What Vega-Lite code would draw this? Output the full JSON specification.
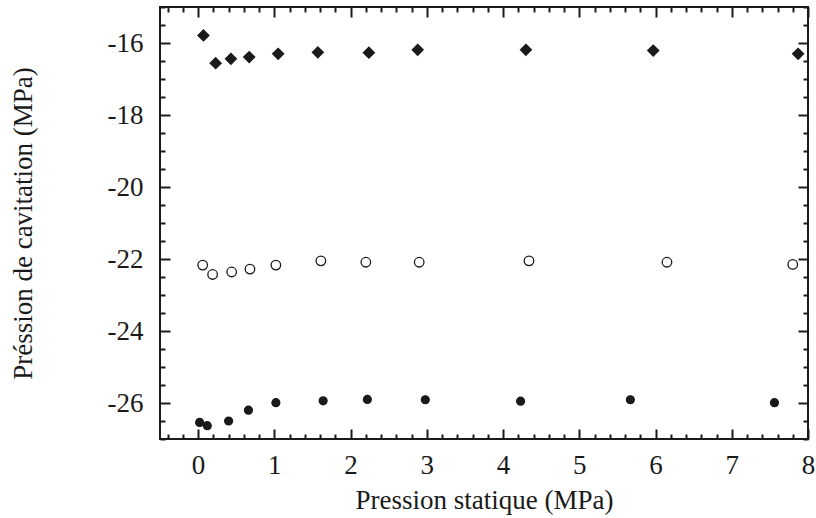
{
  "$schema": "https://vega.github.io/schema/vega-lite/v6.json",
  "width": 648,
  "height": 432,
  "autosize": {"type": "none"},
  "padding": {"left": 160, "top": 7, "right": 8, "bottom": 79},
  "background": "white",
  "config": {
    "view": {"stroke": "#1a1a1a", "strokeWidth": 2},
    "font": "Liberation Serif",
    "axis": {
      "labelFont": "Liberation Serif",
      "titleFont": "Liberation Serif",
      "labelFontSize": 27,
      "titleFontSize": 27,
      "titleFontWeight": "normal",
      "labelColor": "#1a1a1a",
      "titleColor": "#1a1a1a",
      "tickColor": "#1a1a1a",
      "tickWidth": 2,
      "domain": false,
      "grid": false
    }
  },
  "data": {
    "values": [
      {"s": "d", "p": 0.07, "c": -15.79},
      {"s": "d", "p": 0.23, "c": -16.56},
      {"s": "d", "p": 0.43, "c": -16.44},
      {"s": "d", "p": 0.67, "c": -16.39},
      {"s": "d", "p": 1.05, "c": -16.30},
      {"s": "d", "p": 1.57, "c": -16.26},
      {"s": "d", "p": 2.24, "c": -16.27},
      {"s": "d", "p": 2.88, "c": -16.19},
      {"s": "d", "p": 4.30, "c": -16.19},
      {"s": "d", "p": 5.97, "c": -16.21},
      {"s": "d", "p": 7.87, "c": -16.30},
      {"s": "o", "p": 0.06, "c": -22.17},
      {"s": "o", "p": 0.19, "c": -22.43},
      {"s": "o", "p": 0.44, "c": -22.36},
      {"s": "o", "p": 0.68, "c": -22.28},
      {"s": "o", "p": 1.02, "c": -22.17},
      {"s": "o", "p": 1.61, "c": -22.05},
      {"s": "o", "p": 2.20, "c": -22.09},
      {"s": "o", "p": 2.90, "c": -22.09},
      {"s": "o", "p": 4.34, "c": -22.05},
      {"s": "o", "p": 6.15, "c": -22.09},
      {"s": "o", "p": 7.80, "c": -22.15},
      {"s": "f", "p": 0.02, "c": -26.54},
      {"s": "f", "p": 0.12, "c": -26.63},
      {"s": "f", "p": 0.40, "c": -26.50},
      {"s": "f", "p": 0.66, "c": -26.20},
      {"s": "f", "p": 1.02, "c": -25.99},
      {"s": "f", "p": 1.64, "c": -25.94},
      {"s": "f", "p": 2.22, "c": -25.90},
      {"s": "f", "p": 2.98, "c": -25.91},
      {"s": "f", "p": 4.23, "c": -25.95},
      {"s": "f", "p": 5.67, "c": -25.91},
      {"s": "f", "p": 7.56, "c": -25.99}
    ]
  },
  "resolve": {"axis": {"x": "independent", "y": "independent"}},
  "layer": [
    {
      "mark": {"type": "point", "filled": true, "stroke": "#1a1a1a", "strokeWidth": 1.3, "opacity": 1},
      "encoding": {
        "x": {
          "field": "p", "type": "quantitative",
          "scale": {"domain": [-0.5, 8], "nice": false, "zero": false},
          "axis": {
            "orient": "bottom",
            "values": [-0.4,-0.2,0,0.2,0.4,0.6,0.8,1,1.2,1.4,1.6,1.8,2,2.2,2.4,2.6,2.8,3,3.2,3.4,3.6,3.8,4,4.2,4.4,4.6,4.8,5,5.2,5.4,5.6,5.8,6,6.2,6.4,6.6,6.8,7,7.2,7.4,7.6,7.8,8],
            "labelExpr": "datum.value % 1 === 0 ? '' + datum.value : ''",
            "tickSize": {"condition": {"test": "datum.value % 1 === 0", "value": -10}, "value": -5},
            "labelPadding": 23,
            "labelFlush": false,
            "labelOverlap": false,
            "title": "Pression statique (MPa)",
            "titlePadding": 4
          }
        },
        "y": {
          "field": "c", "type": "quantitative",
          "scale": {"domain": [-27, -15], "nice": false, "zero": false},
          "axis": {
            "orient": "left",
            "values": [-27,-26.5,-26,-25.5,-25,-24.5,-24,-23.5,-23,-22.5,-22,-21.5,-21,-20.5,-20,-19.5,-19,-18.5,-18,-17.5,-17,-16.5,-16,-15.5,-15],
            "labelExpr": "datum.value % 2 === 0 && datum.value > -27 && datum.value < -15 ? '' + datum.value : ''",
            "tickSize": {"condition": {"test": "datum.value % 2 === 0", "value": -10}, "value": -5},
            "labelPadding": 27,
            "labelFlush": false,
            "labelOverlap": false,
            "title": "Préssion de cavitation (MPa)",
            "titlePadding": 70
          }
        },
        "shape": {"field": "s", "type": "nominal", "scale": {"domain": ["d", "o", "f"], "range": ["diamond", "circle", "circle"]}, "legend": null},
        "fill": {"field": "s", "type": "nominal", "scale": {"domain": ["d", "o", "f"], "range": ["#1a1a1a", "#ffffff", "#1a1a1a"]}, "legend": null},
        "size": {"field": "s", "type": "nominal", "scale": {"domain": ["d", "o", "f"], "range": [120, 62, 52]}, "legend": null}
      }
    },
    {
      "mark": {"type": "point", "opacity": 0},
      "encoding": {
        "x": {
          "field": "p", "type": "quantitative",
          "axis": {
            "orient": "top",
            "values": [-0.4,-0.2,0,0.2,0.4,0.6,0.8,1,1.2,1.4,1.6,1.8,2,2.2,2.4,2.6,2.8,3,3.2,3.4,3.6,3.8,4,4.2,4.4,4.6,4.8,5,5.2,5.4,5.6,5.8,6,6.2,6.4,6.6,6.8,7,7.2,7.4,7.6,7.8,8],
            "labels": false,
            "tickSize": {"condition": {"test": "datum.value % 1 === 0", "value": -10}, "value": -5},
            "title": null
          }
        },
        "y": {
          "field": "c", "type": "quantitative",
          "axis": {
            "orient": "right",
            "values": [-27,-26.5,-26,-25.5,-25,-24.5,-24,-23.5,-23,-22.5,-22,-21.5,-21,-20.5,-20,-19.5,-19,-18.5,-18,-17.5,-17,-16.5,-16,-15.5,-15],
            "labels": false,
            "tickSize": {"condition": {"test": "datum.value % 2 === 0", "value": -10}, "value": -5},
            "title": null
          }
        }
      }
    }
  ]
}
